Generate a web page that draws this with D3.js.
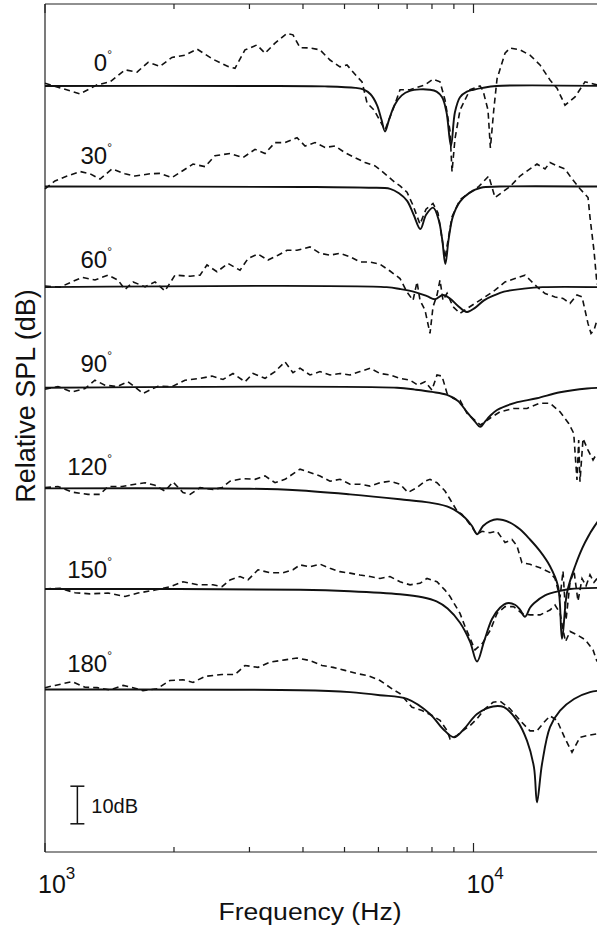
<!DOCTYPE html>
<html>
<head>
	<title>relative-spl-vs-frequency</title>
	<script src="https://d3js.org/d3.v7.min.js"></script>
	<style>
		body { margin: 0; background: #fff; }
		text { font-family: "Liberation Sans", Arial, Helvetica, sans-serif; fill: #111; }
	</style>
</head>
<body>
	<svg id="chart" width="597" height="931"></svg>
	<script type="text/javascript">
		// incidence angles, one pair of curves each (offset downwards)
		var angles = [0, 30, 60, 90, 120, 150, 180];
		var offsetDb = 26.75;

		// [frequency Hz, relative dB] - dashed = measured, solid = model
		var measured0 = [[1000,0.7],[1207,-2.1],[1323,0.3],[1418,1.1],[1537,4.3],[1640,3.7],[1740,6.3],[1855,5.2],[1978,7.6],[2122,8.2],[2264,9.8],[2466,7.1],[2674,5.2],[2776,4.7],[2929,9.6],[3124,10.9],[3262,8.7],[3442,11.4],[3671,14.0],[3791,13.6],[3937,10.2],[4153,10.1],[4383,9.6],[4625,6.9],[4879,5.1],[5067,5.6],[5348,2.5],[5494,1.1],[5643,-4.5],[5860,-6.4],[6215,-11.7],[6500,-6],[6738,-1],[7110,-1],[7706,0.3],[8045,1.8],[8353,1.1],[8581,-3.7],[8815,-12],[8910,-22.8],[9054,-14],[9301,-6.4],[9813,-1],[10356,0],[10524,-1.2],[10811,-6.4],[10950,-16.5],[11150,-6.4],[11348,1.9],[11845,8.7],[12168,10.1],[12838,9.6],[13548,8.2],[14296,5.6],[15085,1.6],[15664,-0.6],[16352,-5.1],[17258,-2.9],[18205,1.1],[19418,0.3]];
		var model0 = [[1000,0],[3000,0],[4500,-0.1],[5300,-0.5],[5550,-1],[5750,-2.2],[5950,-5],[6100,-9],[6215,-12.1],[6350,-9],[6550,-5],[6800,-2.5],[7100,-1.3],[7500,-0.9],[7900,-1],[8200,-1.5],[8450,-3],[8650,-7],[8860,-16],[9050,-7],[9300,-3],[9650,-1.5],[10000,-1],[10500,-0.5],[11300,0],[20000,0]];

		var measured30 = [[1000,-0.6],[1055,1.5],[1126,2.8],[1207,4],[1274,3.4],[1344,2],[1434,4.7],[1537,3.4],[1622,2.8],[1758,3.4],[1855,3.5],[1978,2.4],[2122,4.6],[2215,6],[2363,5.3],[2493,8.2],[2703,8.8],[2898,7.7],[3091,9.9],[3262,8.8],[3442,11.7],[3632,11.7],[3874,13],[4045,10.8],[4267,11.7],[4503,10.4],[4752,10.8],[5013,9],[5290,7.7],[5582,6.4],[5892,5.5],[6215,3.4],[6560,1.1],[6738,0.2],[6996,-1.5],[7226,-5],[7502,-10],[7748,-6],[8045,-4.5],[8263,-7],[8581,-19],[8910,-8],[9301,-3.5],[9813,-1.6],[10283,0],[10852,2.8],[11226,-2.9],[12168,0],[12838,2.8],[13548,4.7],[14065,6],[14686,4.7],[15085,6.4],[15664,5.5],[16352,4.7],[16890,2.4],[17722,-0.6],[18505,-2.9],[18703,-8.2],[19110,-17.1],[19418,-26]];
		var model30 = [[1000,0],[4000,-0.1],[5700,-0.3],[6390,-0.6],[6700,-1.8],[7000,-3.8],[7250,-7.5],[7515,-11.3],[7750,-7.5],[8050,-5.6],[8300,-9],[8450,-14],[8596,-20.6],[8750,-14],[8950,-8],[9300,-4],[9800,-1.6],[10400,-0.3],[11500,0],[20000,0]];

		var measured60 = [[1000,0.3],[1084,0],[1144,1.2],[1220,2.6],[1308,1.9],[1403,3.2],[1480,1.9],[1537,-0.6],[1605,1.4],[1712,0.1],[1806,1.4],[1905,-1],[2011,3.2],[2180,2.9],[2300,3.2],[2388,5.9],[2520,4.1],[2674,6.3],[2852,4.5],[2977,7.6],[3141,8.8],[3314,7.2],[3498,8.5],[3671,9.8],[3874,9.8],[4153,10.7],[4383,9],[4625,8.5],[4879,9],[5150,8.1],[5435,6.7],[5735,6.7],[6050,6.1],[6385,4.3],[6738,2.3],[6996,-1.3],[7226,-3.5],[7383,1.4],[7502,-3.5],[7706,-6.1],[7916,-12.3],[8045,-5.2],[8219,-2.1],[8353,1.9],[8488,-3.5],[8676,-1.6],[8959,-5.2],[9301,-7],[9656,-5.7],[10081,-4.3],[10637,-2.6],[11226,-0.8],[11845,1.4],[12497,2.3],[13189,3.2],[13548,1.9],[14065,0.1],[14686,-1.7],[15497,-2.6],[16178,-3],[16799,-4.3],[17438,-2.1],[17918,-2.6],[18205,-6.1],[18505,-9.7],[18805,-12.3],[19110,-11.4],[19418,-8.8]];
		var model60 = [[1000,0],[6270,0],[6738,-0.5],[7304,-1.3],[7790,-2.4],[8132,-3.2],[8488,-2.1],[8815,-3],[9202,-5],[9656,-6.6],[10081,-5.5],[10581,-3.5],[11166,-2.2],[11780,-1.2],[13115,-0.4],[14500,0],[20000,0]];

		var measured90 = [[1000,-0.4],[1072,0.3],[1156,-1.1],[1240,-0.2],[1308,2],[1380,0.7],[1472,0.3],[1562,1.6],[1693,-1.5],[1835,0.4],[1978,0.3],[2122,2],[2300,2.5],[2453,3.1],[2603,2.2],[2746,3.8],[2929,1.6],[3058,3.8],[3262,2.5],[3442,4.3],[3632,6.9],[3791,4],[3937,5.2],[4153,3.4],[4383,4.3],[4625,3.4],[4879,3.8],[5150,3.4],[5435,4.3],[5735,5.2],[6050,3.8],[6385,3.4],[6738,2.5],[7110,2],[7422,0.7],[7706,1.6],[8001,-0.6],[8219,3.4],[8442,3.1],[8676,-1.5],[8959,-2.8],[9301,-3.3],[9656,-6.8],[10373,-9.9],[10927,-8.1],[11530,-6.4],[12407,-5.5],[13329,-5.5],[14296,-4.1],[15085,-4.1],[15920,-6.4],[16680,-9.5],[17135,-12.1],[17438,-24.5],[17600,-13.9],[17722,-25],[18014,-13.5],[18505,-16.6],[19009,-19.2],[19418,-17.4]];
		var model90 = [[1000,0],[6630,0],[7304,-0.5],[8001,-1.1],[8676,-1.9],[9202,-3.5],[9656,-6.5],[10081,-9],[10373,-10.4],[10637,-9],[10927,-7.5],[11348,-5.9],[12497,-4],[14065,-2.8],[15920,-1.2],[18408,-0.2],[20000,0]];

		var measured120 = [[1000,0.2],[1072,0.5],[1156,-1],[1260,-1.6],[1344,-1.6],[1403,0.5],[1512,0.5],[1622,1.1],[1712,1.5],[1806,0.8],[1905,-0.7],[1989,1.7],[2099,-1.1],[2180,-1.6],[2300,0.2],[2466,-0.3],[2589,0.2],[2703,1.9],[2898,2.6],[3091,2.4],[3262,3.3],[3442,1.5],[3632,2.4],[3874,4.6],[3937,5.1],[4153,4.2],[4383,3.3],[4625,1.9],[4879,2.4],[5150,1.1],[5435,1.1],[5735,0.6],[6050,1.5],[6385,1.9],[6738,1.1],[7034,-1.1],[7383,0.2],[7706,1.9],[7916,2.4],[8219,1.5],[8581,-0.7],[8815,-2.9],[9153,-6],[9402,-6.9],[9813,-9.6],[10190,-12.2],[10467,-11.4],[10927,-11.8],[11348,-11.4],[11845,-14.4],[12296,-13.6],[12630,-15.3],[12974,-19.8],[13548,-20.2],[14296,-21.1],[15085,-22.4],[15497,-24],[15920,-29],[16178,-22],[16441,-35],[16799,-25],[17161,-22],[17533,-30],[17918,-24],[18306,-26],[18703,-23],[19110,-25],[19418,-24]];
		var model120 = [[1000,0],[3000,-0.1],[3874,-0.5],[5150,-1.6],[6738,-2.9],[7916,-3.8],[8815,-5.1],[9555,-7.8],[9919,-10],[10190,-12.2],[10524,-10],[10927,-8.7],[11348,-8.2],[12168,-9.1],[12838,-10.9],[13548,-13.6],[14296,-16.7],[15085,-20.7],[15749,-26],[16091,-40],[16530,-27.7],[17258,-20.7],[18205,-14.4],[19418,-9.1],[20000,-7.5]];

		var measured150 = [[1000,0],[1084,0.2],[1175,-1],[1274,-1.3],[1403,-1.1],[1537,-2],[1648,-1.1],[1806,-0.3],[1957,0.6],[2099,1.9],[2276,1.1],[2466,1.1],[2589,0.6],[2703,2.4],[2852,3.3],[2977,2.4],[3141,5.1],[3351,4.3],[3593,4.3],[3791,5.1],[3937,6.4],[4153,5.9],[4383,6.6],[4625,5.5],[4879,4.6],[5150,4.2],[5435,3.7],[5735,3.3],[6050,2.8],[6385,3.3],[6738,1.9],[7110,1.1],[7502,1.5],[7790,2.8],[8219,1.9],[8581,-0.3],[8815,-2],[9301,-6.5],[9555,-10],[10081,-16.2],[10500,-14.4],[10950,-10.9],[11348,-6.5],[11845,-4.7],[12400,-4.7],[12974,-6.5],[13560,-6.9],[14300,-6.9],[15090,-5.6],[15500,-4.3],[15930,-6.5],[16180,-10.9],[16400,-14],[16800,-11.3],[17438,-12.2],[18230,-13.5],[19009,-16.2],[19418,-19.3]];
		var model150 = [[1000,0],[3937,-0.2],[5150,-0.6],[6738,-1.4],[7600,-2.2],[8200,-3.3],[8700,-5.2],[9301,-9],[9813,-14],[10190,-19.3],[10581,-14],[11046,-8],[11530,-5],[11971,-3.8],[12497,-4.2],[12838,-5.5],[13189,-7.4],[13548,-5],[13840,-3.8],[14686,-1.7],[15920,-0.5],[16799,0],[20000,0.3]];

		var measured180 = [[1000,0.5],[1055,1.1],[1156,2.1],[1240,0.6],[1323,0.5],[1418,-0.1],[1521,1.1],[1605,0.5],[1693,-0.3],[1825,0.2],[1957,2.4],[2099,2.6],[2215,1.9],[2363,3.5],[2589,4],[2776,4],[2929,6.4],[3141,5.9],[3351,7.3],[3632,7.9],[3874,8.4],[4153,7.7],[4431,6.4],[4701,5.9],[5013,5.1],[5320,4.3],[5673,3.7],[6050,2.4],[6455,0.2],[6738,-1.1],[7187,-4.7],[7584,-5.6],[8001,-6.9],[8353,-8.2],[8676,-10.9],[8815,-13.1],[9153,-12.2],[9452,-10.9],[9813,-9.6],[10190,-7.8],[10637,-5.1],[11106,-3.4],[11530,-3.1],[12168,-5.1],[12838,-8.2],[13548,-11],[14065,-11],[14528,-9],[15085,-7],[15664,-8.2],[16352,-13],[16979,-16.7],[17722,-12.7],[18505,-12.2],[19418,-11.8]];
		var model180 = [[1000,0],[3937,-0.2],[5150,-0.7],[6050,-1.5],[6996,-2.5],[7916,-6.5],[8488,-10.5],[9007,-12.7],[9503,-10.5],[10190,-6.5],[11106,-4.5],[11780,-4.7],[12630,-8.2],[13329,-13.6],[13840,-20.7],[14065,-30],[14450,-19.8],[15085,-10],[15920,-5.6],[17161,-2.5],[18703,-0.7],[20000,-0.2]];

		var measured = [measured0, measured30, measured60, measured90, measured120, measured150, measured180];
		var model = [model0, model30, model60, model90, model120, model150, model180];

		var decades = [1000, 10000];

		// layout
		var plotLeft = 45, plotTop = 4, plotBottom = 852;
		var labelLift = [15, 23, 19, 16, 13.5, 10.7, 18];

		var svg = d3.select('#chart');

		var x = d3.scaleLog()
			.domain([1000, 20000])
			.range([plotLeft, plotLeft + 428.5 * Math.log10(20)]);

		var y = d3.scaleLinear()
			.domain([21.8, -203.7])
			.range([plotTop, plotBottom]);

		var line = function(k, curve) {
			return d3.line()
				.x(d => x(d[0]))
				.y(d => y(d[1] - k * offsetDb))
				.curve(curve);
		};

		// frame
		svg.append('line').attr('x1', plotLeft).attr('x2', 597).attr('y1', plotTop).attr('y2', plotTop)
			.attr('stroke', '#222').attr('stroke-width', 1.2);
		svg.append('line').attr('x1', plotLeft).attr('x2', 597).attr('y1', plotBottom).attr('y2', plotBottom)
			.attr('stroke', '#222').attr('stroke-width', 1.2);
		svg.append('line').attr('x1', plotLeft).attr('x2', plotLeft).attr('y1', plotTop).attr('y2', plotBottom)
			.attr('stroke', '#222').attr('stroke-width', 1.2);

		// log ticks, pointing inwards on top and bottom
		var ticks = x.ticks().filter(t => t <= 20000);
		var tickLen = t => decades.indexOf(t) >= 0 ? 9 : 5;
		svg.selectAll('.tick-b').data(ticks).enter().append('line')
			.attr('x1', d => x(d)).attr('x2', d => x(d))
			.attr('y1', plotBottom).attr('y2', d => plotBottom - tickLen(d))
			.attr('stroke', '#222').attr('stroke-width', 1.2);
		svg.selectAll('.tick-t').data(ticks).enter().append('line')
			.attr('x1', d => x(d)).attr('x2', d => x(d))
			.attr('y1', plotTop).attr('y2', d => plotTop + tickLen(d))
			.attr('stroke', '#222').attr('stroke-width', 1.2);

		var tl = svg.selectAll('.tick-label').data(decades).enter().append('text')
			.attr('x', d => x(d) - 7)
			.attr('y', 893)
			.style('font-size', '25px');
		tl.append('tspan').text('10');
		tl.append('tspan').text(d => Math.round(Math.log10(d)))
			.attr('dy', -14).style('font-size', '17px');

		svg.append('text')
			.attr('x', 310).attr('y', 920)
			.attr('text-anchor', 'middle')
			.attr('textLength', 183).attr('lengthAdjust', 'spacingAndGlyphs')
			.style('font-size', '23px')
			.text('Frequency (Hz)');

		svg.append('text')
			.attr('transform', 'translate(35,396) rotate(-90)')
			.attr('text-anchor', 'middle')
			.style('font-size', '27px')
			.text('Relative SPL (dB)');

		// curves
		var g = svg.append('g');
		g.selectAll('.measured').data(measured).enter().append('path')
			.attr('d', (d, k) => line(k, d3.curveLinear)(d))
			.attr('fill', 'none').attr('stroke', '#111')
			.attr('stroke-width', 1.6).attr('stroke-dasharray', '6,4');
		g.selectAll('.model').data(model).enter().append('path')
			.attr('d', (d, k) => line(k, d3.curveCatmullRom.alpha(0.5))(d))
			.attr('fill', 'none').attr('stroke', '#111')
			.attr('stroke-width', 1.9);

		// angle labels
		var lab = svg.selectAll('.angle').data(angles).enter().append('text')
			.attr('x', 112)
			.attr('y', (d, k) => y(-k * offsetDb) - labelLift[k])
			.attr('text-anchor', 'end')
			.style('font-size', '24px');
		lab.append('tspan').text(d => d);
		lab.append('tspan').text('\u00b0').attr('dy', -12).style('font-size', '12px');

		// 10 dB scale bar
		var barF = 1190, barTop = -186.2, barDb = 10;
		var bx = x(barF);
		svg.append('line').attr('x1', bx).attr('x2', bx)
			.attr('y1', y(barTop)).attr('y2', y(barTop - barDb))
			.attr('stroke', '#111').attr('stroke-width', 1.5);
		[barTop, barTop - barDb].forEach(function(v) {
			svg.append('line').attr('x1', bx - 7).attr('x2', bx + 7)
				.attr('y1', y(v)).attr('y2', y(v))
				.attr('stroke', '#111').attr('stroke-width', 1.5);
		});
		svg.append('text')
			.attr('x', bx + 14).attr('y', 813)
			.style('font-size', '20px')
			.text(barDb + 'dB');
	</script>
</body>
</html>
